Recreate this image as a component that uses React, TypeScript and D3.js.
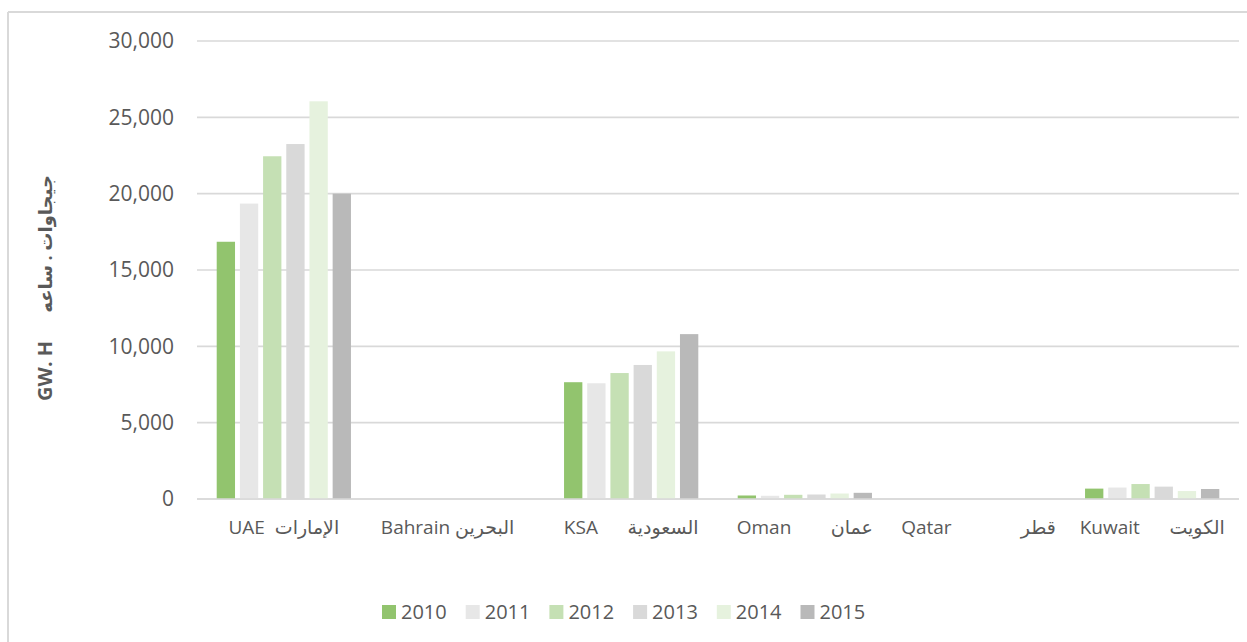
import React from "react";
import * as d3 from "d3";

const categories = ["UAE", "Bahrain", "KSA", "Oman", "Qatar", "Kuwait"];
const categoryLabels = [
  "UAE  الإمارات",
  "Bahrain البحرين    ",
  "KSA      السعودية",
  "Oman        عمان",
  "Qatar              قطر",
  "Kuwait      الكويت",
];
const years = ["2010", "2011", "2012", "2013", "2014", "2015"];
const v2010 = [16850, 0, 7650, 230, 0, 680];
const v2011 = [19350, 0, 7580, 210, 0, 750];
const v2012 = [22450, 0, 8250, 275, 0, 980];
const v2013 = [23250, 0, 8780, 295, 0, 810];
const v2014 = [26050, 0, 9670, 360, 0, 520];
const v2015 = [20000, 0, 10800, 405, 0, 655];
const seriesValues = [v2010, v2011, v2012, v2013, v2014, v2015];
const colors = ["#92c46e", "#e7e7e7", "#c5e0b4", "#d9d9d9", "#e6f2de", "#b9b9b9"];
const yTicks = [0, 5000, 10000, 15000, 20000, 25000, 30000];
const yTitleEn = "GW. H";
const yTitleAr = "جيجاوات . ساعه";

const W = 1247;
const H = 642;
const FONT = "'Open Sans', 'DejaVu Sans', sans-serif";

export default function App() {
  const left = 197, right = 1239, top = 41, bottom = 499;
  const x0 = d3.scaleBand<string>().domain(categories).range([left, right]).padding(0);
  const x1 = d3
    .scaleBand<string>()
    .domain(years)
    .range([0, x0.bandwidth()])
    .paddingInner(0.21)
    .paddingOuter(0.85);
  const y = d3.scaleLinear().domain([0, 30000]).range([bottom, top]);
  const fmt = d3.format(",");

  const legendX0 = 382;
  const legendStep = 83.7;
  const legendY = 612;

  return (
    <svg
      width={W}
      height={H}
      style={{ position: "absolute", left: 0, top: 0, background: "#fff" }}
      fontFamily={FONT}
    >
      <rect x={0} y={0} width={W} height={H} fill="#fff" />
      {/* chart border */}
      <line x1={8} y1={12} x2={W} y2={12} stroke="#d9d9d9" strokeWidth={2} />
      <line x1={8} y1={12} x2={8} y2={H} stroke="#d9d9d9" strokeWidth={2} />

      {/* gridlines */}
      {yTicks.map((t) => (
        <line
          key={t}
          x1={left}
          x2={right}
          y1={y(t)}
          y2={y(t)}
          stroke="#d9d9d9"
          strokeWidth={1.6}
        />
      ))}
      {/* y tick labels */}
      {yTicks.map((t) => (
        <text
          key={"l" + t}
          x={174}
          y={y(t)}
          dy="0.35em"
          textAnchor="end"
          fontSize={21}
          fill="#595959"
        >
          {fmt(t)}
        </text>
      ))}

      {/* bars */}
      {seriesValues.map((vals, si) =>
        vals.map((v, ci) =>
          v > 0 ? (
            <rect
              key={si + "-" + ci}
              x={(x0(categories[ci]) as number) + (x1(years[si]) as number)}
              y={y(v)}
              width={x1.bandwidth()}
              height={y(0) - y(v)}
              fill={colors[si]}
            />
          ) : null
        )
      )}
      {/* baseline */}
      <line x1={left} x2={right} y1={y(0)} y2={y(0)} stroke="#d9d9d9" strokeWidth={1.6} />

      {/* x labels */}
      {categories.map((c, i) => (
        <text
          key={c}
          x={(x0(c) as number) + x0.bandwidth() / 2}
          y={527}
          dy="0.35em"
          textAnchor="middle"
          fontSize={19}
          fill="#595959"
          style={{ whiteSpace: "pre" }}
        >
          {categoryLabels[i]}
        </text>
      ))}

      {/* y title */}
      <text
        transform="translate(46,288) rotate(-90)"
        textAnchor="middle"
        dy="0.35em"
        fontWeight="bold"
        fill="#595959"
        style={{ whiteSpace: "pre" }}
      >
        <tspan fontSize={20}>{yTitleEn}</tspan>
        <tspan fontSize={18}>{"      " + yTitleAr}</tspan>
      </text>

      {/* legend */}
      {years.map((yr, i) => (
        <g key={yr} transform={`translate(${legendX0 + i * legendStep},${legendY})`}>
          <rect x={0} y={-7} width={14} height={14} fill={colors[i]} />
          <text x={19} y={0} dy="0.35em" fontSize={20} fill="#595959">
            {yr}
          </text>
        </g>
      ))}
    </svg>
  );
}
